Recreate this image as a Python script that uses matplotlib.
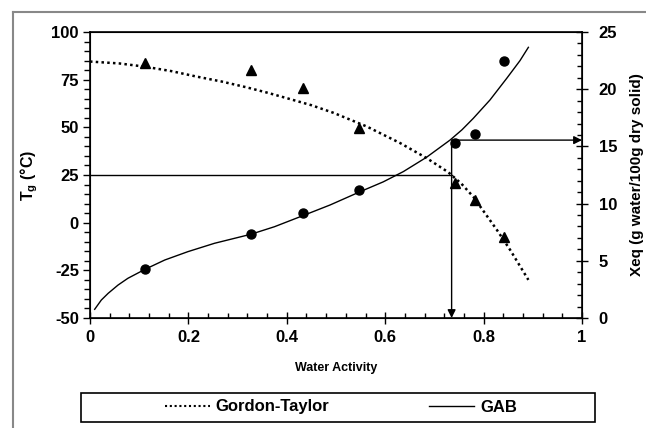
import matplotlib
matplotlib.use("Agg")
import matplotlib.pyplot as plt
from matplotlib.lines import Line2D
from matplotlib.patches import Rectangle
from matplotlib.ticker import MultipleLocator

plt.rcParams['font.family'] = ['Liberation Sans', 'DejaVu Sans']
plt.rcParams['font.weight'] = 'bold'
plt.rcParams['axes.unicode_minus'] = False
plt.rcParams['mathtext.fontset'] = 'custom'
plt.rcParams['mathtext.bf'] = 'Liberation Sans:bold'
plt.rcParams['mathtext.default'] = 'bf'

# measured points
aw_pts = [0.112, 0.327, 0.432, 0.547, 0.742, 0.782, 0.842]
tg_pts = [84.0, 80.1, 70.8, 49.5, 20.8, 11.9, -7.6]
xeq_pts = [4.25, 7.3, 9.2, 11.2, 15.3, 16.1, 22.5]

# Gordon-Taylor fit
gt_aw = [0.0, 0.06, 0.112, 0.165, 0.217, 0.268, 0.318, 0.36, 0.400, 0.45, 0.495,
         0.562, 0.630, 0.684, 0.728, 0.755, 0.779, 0.827, 0.854, 0.891]
gt_tg = [84.5, 83.5, 81.8, 79.5, 76.6, 74.0, 71.0, 68.2, 65.3, 61.6, 57.6,
         50.5, 41.8, 33.9, 26.5, 20.4, 13.6, -3.8, -14.3, -30.0]

# GAB fit
gab_aw = [0.0095, 0.023, 0.037, 0.057, 0.077, 0.112, 0.152, 0.199, 0.253, 0.327, 0.375,
          0.430, 0.488, 0.549, 0.596, 0.637, 0.684, 0.732, 0.756, 0.779, 0.813, 0.847, 0.874, 0.891]
gab_xeq = [0.76, 1.57, 2.16, 2.88, 3.47, 4.26, 5.07, 5.80, 6.53, 7.32, 7.98,
           8.90, 9.88, 11.04, 11.9, 12.8, 14.05, 15.56, 16.45, 17.45, 19.06, 20.95, 22.5, 23.66]

tg_ref = 25
aw_crit = 0.735
xeq_crit = 15.55

fig = plt.figure(figsize=(6.46, 4.28), dpi=100)
ax1 = fig.add_axes([90/646, 110/428, 492/646, 286/428])
ax2 = ax1.twinx()

ax1.plot(gt_aw, gt_tg, color='black', lw=1.8, linestyle=(0, (1, 1.3)))
ax1.plot(aw_pts, tg_pts, '^', color='black', ms=6.5)
ax1.plot([0, aw_crit], [tg_ref, tg_ref], color='black', lw=1)

ax2.plot(gab_aw, gab_xeq, color='black', lw=1)
ax2.plot(aw_pts, xeq_pts, 'o', color='black', ms=6.5)
ax2.annotate('', xy=(aw_crit, 0), xytext=(aw_crit, xeq_crit - 0.1),
             arrowprops=dict(arrowstyle='-|>', color='black', lw=1, mutation_scale=12, shrinkA=0, shrinkB=0))
ax2.annotate('', xy=(1.0, xeq_crit), xytext=(aw_crit, xeq_crit),
             arrowprops=dict(arrowstyle='-|>', color='black', lw=1, mutation_scale=12, shrinkA=0, shrinkB=0))

ax1.set_xlim(0, 1)
ax1.set_ylim(-50, 100)
ax2.set_ylim(0, 25)
ax1.xaxis.set_major_locator(MultipleLocator(0.2))
ax1.xaxis.set_minor_locator(MultipleLocator(0.04))
ax1.yaxis.set_major_locator(MultipleLocator(25))
ax1.yaxis.set_minor_locator(MultipleLocator(5))
ax2.yaxis.set_major_locator(MultipleLocator(5))
ax2.yaxis.set_minor_locator(MultipleLocator(1))
ax1.xaxis.set_major_formatter(plt.FuncFormatter(lambda v, p: '%g' % v))

ax1.tick_params(axis='y', which='major', direction='out', length=5, width=1, labelsize=12, pad=3)
ax1.tick_params(axis='y', which='minor', direction='out', length=4, width=1)
ax1.tick_params(axis='x', which='major', direction='inout', length=8, width=1, labelsize=12, pad=5)
ax1.tick_params(axis='x', which='minor', direction='in', length=3.5, width=1)
ax2.tick_params(axis='y', which='major', direction='inout', length=8, width=1, labelsize=12, pad=8)
ax2.tick_params(axis='y', which='minor', direction='in', length=3.5, width=1)
for sp in ax2.spines.values():
    sp.set_linewidth(1.2)

ax1.set_xlabel('Water Activity', fontsize=9, fontweight='bold', labelpad=12)
ax1.set_ylabel('T$_g$ (°C)', fontsize=11.5, fontweight='bold', labelpad=8)
ax2.set_ylabel('Xeq (g water/100g dry solid)', fontsize=11, fontweight='bold', labelpad=9)

# legend box
fig.patches.append(Rectangle((81/646, 6/428), 514/646, 29/428, transform=fig.transFigure,
                             facecolor='white', edgecolor='black', lw=1.2))
handles = [Line2D([], [], color='black', lw=1.5, linestyle=(0, (1, 1.3))),
           Line2D([], [], color='black', lw=1)]
fig.legend(handles, ['Gordon-Taylor', 'GAB'], loc='center', bbox_to_anchor=(341/646, 21/428),
           ncol=2, frameon=False, handlelength=2.7, handletextpad=0.35,
           columnspacing=6.0, prop={'weight': 'bold', 'size': 12})

# outer frame (left and top edges)
fig.lines.append(Line2D([13/646, 13/646], [0, 1 - 12/428], transform=fig.transFigure, color='#888888', lw=1.5))
fig.lines.append(Line2D([13/646, 1], [1 - 12/428, 1 - 12/428], transform=fig.transFigure, color='#888888', lw=1.5))

fig.savefig('out.png', dpi=100)
